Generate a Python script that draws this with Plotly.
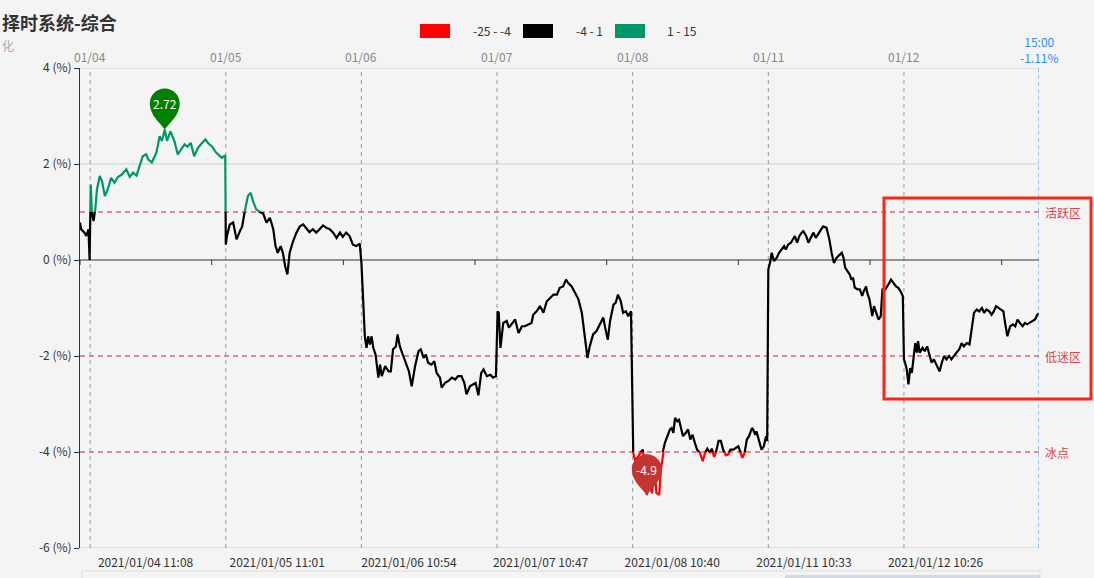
import plotly.graph_objects as go

W, H = 1094, 578
ML, MR, MT, MB = 80, 55, 68, 30
PW, PH = W - ML - MR, H - MT - MB


def px(xp):
    return (xp - ML) / PW


def py(yp):
    return (H - MB - yp) / PH


# ---------------- data ----------------
minute_idx = [
    0, 2, 8, 11, 15, 17, 19, 21, 24, 27, 30, 35, 39, 44, 49, 55, 61, 67, 74, 82,
    88, 94, 100, 106, 111, 117, 121, 127, 135, 141, 145, 150, 154, 160, 167, 173, 178, 185, 190, 196,
    202, 209, 214, 222, 227, 234, 240, 245, 251, 257, 258, 260, 265, 271, 277, 283, 287, 291, 297, 302,
    306, 312, 318, 324, 330, 336, 342, 346, 350, 355, 359, 363, 367, 371, 377, 383, 389, 395, 400, 406,
    412, 418, 424, 430, 436, 442, 448, 454, 460, 465, 471, 477, 483, 489, 495,
    498, 501, 504, 507, 510, 513, 516, 519, 523, 528, 531, 534, 540, 546, 550, 554, 559, 562, 566, 572,
    578, 582, 587, 593, 599, 603, 608, 612, 616, 622, 627, 631, 637, 640, 646, 652, 658, 664, 669, 675,
    680, 684, 690, 696, 700, 705, 710, 714, 720, 726, 731, 736,
    739, 741, 744, 749, 755, 759, 764, 770, 776, 782, 787, 793, 799, 802, 808, 814, 820, 826, 832, 838,
    844, 849, 855, 860, 864, 870, 876, 882, 888, 893, 898, 902, 908, 914, 920, 926, 930, 934, 938, 944,
    948, 952, 957, 961, 966, 970, 975,
    979, 982, 986, 991, 996, 1000, 1003, 1007, 1012, 1015, 1017, 1020, 1025, 1028, 1031, 1035, 1039, 1044, 1047, 1050,
    1053, 1057, 1060, 1065, 1067, 1072, 1076, 1080, 1084, 1088, 1092, 1097, 1102, 1106, 1110, 1115, 1118, 1122, 1125, 1130,
    1134, 1138, 1143, 1147, 1151, 1156, 1161, 1165, 1169, 1172, 1176, 1180, 1184, 1189, 1191, 1195, 1197, 1202, 1206, 1210,
    1214, 1216,
    1218, 1221, 1224, 1228, 1233, 1237, 1242, 1246, 1249, 1253, 1258, 1261, 1265, 1269, 1273, 1277, 1280, 1285, 1289, 1293,
    1298, 1302, 1306, 1311, 1315, 1321, 1326,
    1330, 1334, 1339, 1344, 1348, 1351, 1354, 1358, 1362, 1365, 1368, 1371, 1376, 1380, 1384, 1387, 1391, 1393, 1397, 1399,
    1402, 1405, 1409, 1413, 1417, 1420, 1425, 1429, 1432, 1435, 1439, 1444, 1448, 1452, 1456,
    1458, 1460, 1463, 1466, 1469, 1472, 1475, 1478, 1481, 1483, 1486, 1491, 1495, 1499, 1503, 1507, 1511, 1516, 1521, 1525,
    1529, 1533, 1538, 1542, 1546, 1551, 1556, 1560, 1564, 1569, 1574, 1578, 1582, 1587, 1591, 1596, 1600, 1604, 1609, 1613,
    1617, 1621, 1625, 1629, 1634, 1637, 1641, 1646, 1651, 1655, 1659, 1663, 1668, 1672, 1676, 1680, 1685, 1690, 1694, 1697,
]

pct_values = [
    0.78, 0.64, 0.57, 0.50, 0.64, 0.00, 1.57, 0.98, 0.81, 1.05, 1.47, 1.75, 1.64, 1.33, 1.47, 1.71, 1.61, 1.73, 1.78, 1.89,
    1.73, 1.82, 1.76, 1.99, 2.16, 2.20, 2.09, 2.03, 2.23, 2.58, 2.48, 2.72, 2.48, 2.68, 2.48, 2.20, 2.30, 2.41, 2.36, 2.44,
    2.16, 2.34, 2.41, 2.51, 2.43, 2.36, 2.25, 2.20, 2.13, 2.18, 0.32, 0.50, 0.74, 0.78, 0.43, 0.60, 0.70, 0.98, 1.33, 1.40,
    1.23, 1.05, 1.00, 0.97, 0.78, 0.88, 0.64, 0.29, 0.15, 0.29, 0.15, -0.13, -0.30, 0.15, 0.39, 0.57, 0.70, 0.74, 0.67, 0.58,
    0.64, 0.57, 0.64, 0.72, 0.67, 0.64, 0.57, 0.46, 0.57, 0.48, 0.57, 0.50, 0.32, 0.29, 0.34,
    -0.06, -0.82, -1.59, -1.83, -1.59, -1.76, -1.59, -1.83, -1.97, -2.45, -2.18, -2.42, -2.21, -2.32, -2.32, -1.86, -1.80, -1.55, -1.80, -2.00,
    -2.21, -2.32, -2.63, -2.21, -1.90, -1.86, -2.04, -1.97, -2.14, -2.18, -2.11, -2.35, -2.45, -2.66, -2.56, -2.52, -2.45, -2.49, -2.42, -2.42,
    -2.56, -2.80, -2.63, -2.59, -2.56, -2.82, -2.35, -2.28, -2.42, -2.39, -2.45, -2.42,
    -1.07, -1.10, -1.83, -1.31, -1.27, -1.41, -1.34, -1.24, -1.52, -1.38, -1.38, -1.34, -1.31, -1.14, -1.07, -0.96, -1.10, -0.86, -0.79, -0.72,
    -0.72, -0.58, -0.55, -0.41, -0.48, -0.55, -0.68, -0.82, -1.10, -1.59, -2.04, -1.80, -1.55, -1.48, -1.34, -1.20, -1.45, -1.66, -1.27, -0.93,
    -0.89, -0.72, -0.86, -1.10, -1.07, -1.17, -1.07,
    -4.02, -4.16, -4.12, -4.02, -3.95, -4.43, -4.90, -4.57, -4.86, -4.57, -4.43, -4.85, -4.89, -4.36, -4.02, -3.81, -3.67, -3.53, -3.50, -3.60,
    -3.29, -3.36, -3.33, -3.60, -3.67, -3.60, -3.53, -3.74, -3.64, -3.81, -3.95, -4.02, -4.19, -4.02, -3.93, -4.02, -3.93, -4.10, -4.02, -3.77,
    -3.77, -3.95, -4.07, -4.05, -3.95, -3.95, -3.91, -3.88, -4.02, -4.12, -4.02, -3.74, -3.67, -3.50, -3.53, -3.64, -3.57, -3.77, -3.95, -3.88,
    -3.67, -3.77,
    -0.20, -0.06, 0.15, -0.02, 0.05, 0.15, 0.22, 0.29, 0.22, 0.32, 0.36, 0.43, 0.50, 0.36, 0.50, 0.57, 0.60, 0.50, 0.36, 0.46,
    0.57, 0.46, 0.53, 0.64, 0.70, 0.67, 0.43,
    0.15, -0.06, 0.05, 0.11, 0.15, 0.05, -0.16, -0.23, -0.30, -0.41, -0.37, -0.58, -0.61, -0.61, -0.75, -0.65, -0.55, -0.68, -0.82, -0.96,
    -1.17, -0.96, -1.10, -1.24, -1.17, -0.61, -0.61, -0.55, -0.48, -0.41, -0.48, -0.55, -0.58, -0.65, -0.75,
    -2.07, -2.14, -2.28, -2.59, -2.25, -2.35, -2.07, -1.73, -1.93, -1.69, -1.93, -1.83, -1.90, -1.80, -1.97, -2.14, -2.07, -2.18, -2.32, -2.14,
    -2.00, -2.07, -2.00, -2.07, -2.00, -1.93, -1.86, -1.73, -1.80, -1.73, -1.76, -1.45, -1.10, -1.03, -1.07, -1.00, -1.10, -1.03, -1.07, -1.14,
    -1.07, -0.96, -1.00, -1.03, -1.07, -1.31, -1.59, -1.38, -1.34, -1.38, -1.24, -1.31, -1.38, -1.31, -1.34, -1.31, -1.27, -1.24, -1.14, -1.11,
]

day_starts = [18, 258, 498, 738, 978, 1218, 1458]
day_labels = ["01/04", "01/05", "01/06", "01/07", "01/08", "01/11", "01/12"]
time_label_idx = [116, 349, 582, 815, 1048, 1281, 1514]
time_labels = ["2021/01/04 11:08", "2021/01/05 11:01", "2021/01/06 10:54", "2021/01/07 10:47",
               "2021/01/08 10:40", "2021/01/11 10:33", "2021/01/12 10:26"]
axis_tick_idx = [0, 233, 466, 699, 932, 1165, 1398, 1631]
last_idx = 1697
last_time = "15:00"

zone_levels = [1, -2, -4]
zone_names = ["活跃区", "低迷区", "冰点"]

piece_ranges = [(-25, -4), (-4, 1), (1, 15)]
piece_labels = ["-25 - -4", "-4 - 1", "1 - 15"]
piece_colors = ["#ff0000", "#000000", "#00966a"]

y_ticks = [4, 2, 0, -2, -4, -6]
Y_MIN, Y_MAX = -6, 4

FONT = "Noto Sans CJK SC, Noto Sans, sans-serif"
BG = "#f4f4f4"

fig = go.Figure()

# invisible trace on main axes so the main subplot exists
fig.add_trace(go.Scatter(x=[minute_idx[0]], y=[pct_values[0]], mode="markers",
                         marker=dict(opacity=0), showlegend=False, hoverinfo="skip"))

# ---------- colored line, one clipped band per visual piece ----------
layout_axes = {}
for k, ((lo, hi), col) in enumerate(zip(piece_ranges, piece_colors)):
    blo, bhi = max(lo, Y_MIN), min(hi, Y_MAX)
    name = "y%d" % (k + 2)
    fig.add_trace(go.Scatter(x=minute_idx, y=pct_values, mode="lines",
                             line=dict(color=col, width=2.2), xaxis="x", yaxis=name,
                             showlegend=False, hoverinfo="skip"))
    layout_axes["yaxis%d" % (k + 2)] = dict(
        domain=[(blo - Y_MIN) / (Y_MAX - Y_MIN), (bhi - Y_MIN) / (Y_MAX - Y_MIN)],
        range=[blo, bhi], anchor="x", visible=False, showgrid=False, zeroline=False,
        fixedrange=True, automargin=False)

shapes = []
annotations = []

# light split lines at ticks not covered by zone lines / zero line
for v in y_ticks:
    if v != 0 and v not in zone_levels:
        shapes.append(dict(type="line", xref="paper", yref="y", x0=0, x1=1, y0=v, y1=v,
                           line=dict(color="#cccccc", width=1), layer="between"))

# day separators
for d in day_starts:
    shapes.append(dict(type="line", xref="x", yref="paper", x0=d, x1=d, y0=0, y1=1,
                       line=dict(color="#999999", width=1, dash="4px,4px"), layer="between"))
# last point line
shapes.append(dict(type="line", xref="x", yref="paper", x0=last_idx, x1=last_idx, y0=0, y1=1,
                   line=dict(color="#3399ff", width=1, dash="4px,3px"), layer="above"))

# zero axis line and its ticks
shapes.append(dict(type="line", xref="paper", yref="y", x0=0, x1=1, y0=0, y1=0,
                   line=dict(color="#333333", width=1), layer="between"))
for t in axis_tick_idx:
    shapes.append(dict(type="line", xref="x", yref="y", ysizemode="pixel", yanchor=0,
                       x0=t, x1=t, y0=0, y1=-5, line=dict(color="#333", width=1),
                       layer="between"))

# zone lines + labels
for lv, nm in zip(zone_levels, zone_names):
    shapes.append(dict(type="line", xref="paper", yref="y", x0=0, x1=1, y0=lv, y1=lv,
                       line=dict(color="#d86a6a", width=1.3, dash="5px,4px"),
                       layer="between"))
    annotations.append(dict(x=px(1043), xref="paper", y=lv, yref="y", text=nm,
                            showarrow=False, xanchor="left", yanchor="middle",
                            font=dict(size=12, color="#d04848", family=FONT)))

# top date labels
for d, lab in zip(day_starts, day_labels):
    annotations.append(dict(x=d, xref="x", y=py(56), yref="paper", text=lab, showarrow=False,
                            xanchor="center", yanchor="middle",
                            font=dict(size=12, color="#888", family=FONT)))

# last value label (two lines)
annotations.append(dict(x=last_idx, xref="x", y=py(50), yref="paper",
                        text="%s<br>%.2f%%" % (last_time, pct_values[-1]),
                        showarrow=False, xanchor="center", yanchor="middle", align="center",
                        font=dict(size=12, color="#2f8ff5", family=FONT)))

# pins for max / min
R, HC = 15, 26
pin_path = (f"M0,0 C-4,6 -{R},{HC-12} -{R},{HC} C-{R},{HC+8.3} -8.3,{HC+R} 0,{HC+R} "
            f"C8.3,{HC+R} {R},{HC+8.3} {R},{HC} C{R},{HC-12} 4,6 0,0 Z")
imax = max(range(len(pct_values)), key=lambda i: pct_values[i])
imin = min(range(len(pct_values)), key=lambda i: pct_values[i])
for i, col in ((imax, "#008000"), (imin, "#c23531")):
    shapes.append(dict(type="path", xref="x", yref="y", xsizemode="pixel", ysizemode="pixel",
                       xanchor=minute_idx[i], yanchor=pct_values[i], path=pin_path,
                       fillcolor=col, line=dict(width=0), layer="above"))
    annotations.append(dict(x=minute_idx[i], xref="x", y=pct_values[i], yref="y",
                            yshift=HC, text="%g" % pct_values[i], showarrow=False,
                            font=dict(size=12, color="white", family=FONT)))

# visual map legend
leg_rect_x = [420, 523, 615]
leg_text_x = [492, 589, 682]
for lx, tx, lab, col in zip(leg_rect_x, leg_text_x, piece_labels, piece_colors):
    shapes.append(dict(type="rect", xref="paper", yref="paper", x0=px(lx), x1=px(lx + 30),
                       y0=py(38), y1=py(24), fillcolor=col, line=dict(width=0)))
    annotations.append(dict(x=px(tx), xref="paper", y=py(31), yref="paper", text=lab,
                            showarrow=False, xanchor="center", yanchor="middle",
                            font=dict(size=12, color="#333", family=FONT)))

# highlight box
shapes.append(dict(type="rect", xref="paper", yref="paper", x0=px(884), x1=px(1091),
                   y0=py(399), y1=py(198), line=dict(color="#ff2418", width=3), layer="above"))

# data-zoom slider hint at the bottom
shapes.append(dict(type="rect", xref="paper", yref="paper", x0=px(82), x1=px(1040),
                   y0=py(600), y1=py(571), line=dict(color="#dddddd", width=1),
                   fillcolor="rgba(0,0,0,0)"))
shapes.append(dict(type="rect", xref="paper", yref="paper", x0=px(785), x1=px(1040),
                   y0=py(600), y1=py(575), line=dict(width=0),
                   fillcolor="rgba(190,200,215,0.6)"))

# title
annotations.append(dict(x=px(0), xref="paper", y=py(22), yref="paper",
                        text="<b>择时系统-综合</b>", showarrow=False, xanchor="left",
                        yanchor="middle", font=dict(size=18, color="#333", family=FONT)))
annotations.append(dict(x=px(0), xref="paper", y=py(46), yref="paper", text="化",
                        showarrow=False, xanchor="left", yanchor="middle",
                        font=dict(size=12, color="#aaa", family=FONT)))

fig.update_layout(
    width=W, height=H,
    margin=dict(l=ML, r=MR, t=MT, b=MB, pad=0, autoexpand=False),
    paper_bgcolor=BG, plot_bgcolor="rgba(0,0,0,0)",
    showlegend=False,
    font=dict(family=FONT, size=12, color="#333"),
    xaxis=dict(range=[0, last_idx], domain=[0, 1], anchor="y", tickmode="array",
               tickvals=time_label_idx, ticktext=time_labels, ticks="", showgrid=False,
               zeroline=False, showline=False, tickfont=dict(size=12, color="#333"),
               ticklabelstandoff=6, automargin=False),
    yaxis=dict(range=[Y_MIN, Y_MAX], domain=[0, 1], anchor="x", tickmode="array",
               tickvals=y_ticks, ticktext=["%d (%%)" % v for v in y_ticks],
               showgrid=False, zeroline=False,
               showline=True, linecolor="#333", linewidth=1,
               ticks="outside", ticklen=5, tickcolor="#333", automargin=False,
               tickfont=dict(size=12, color="#333")),
    shapes=shapes, annotations=annotations,
    **layout_axes,
)

fig.write_html("out.html", config={"displayModeBar": False},
               post_script="document.body.style.margin='0';")
